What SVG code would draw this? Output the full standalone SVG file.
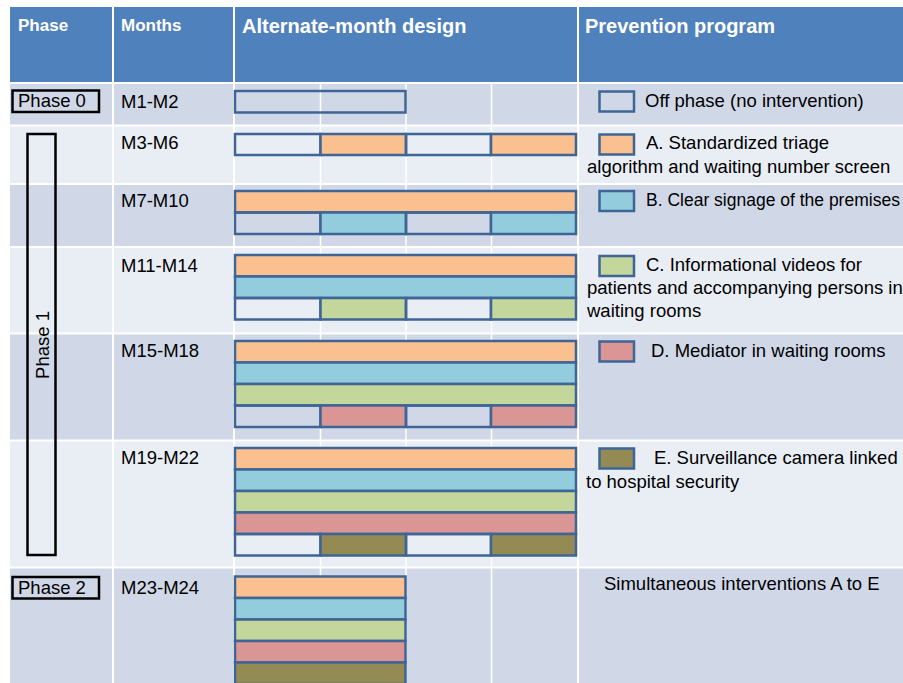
<svg xmlns="http://www.w3.org/2000/svg" width="903" height="683" viewBox="0 0 903 683">
<style>
text{font-family:"Liberation Sans",Arial,sans-serif;font-size:18.5px;fill:#000}
.hd{fill:#FFFFFF;font-weight:bold;font-size:20px}
.hs{fill:#FFFFFF;font-weight:bold;font-size:17px}
.dk{fill:#D0D8E8}
.lt{fill:#E9EDF4}
.bar{stroke:#3E6595;stroke-width:2.5}
.off{fill:none}
.A{fill:#FAC090}
.B{fill:#93CDDD}
.C{fill:#C3D69B}
.D{fill:#D99694}
.E{fill:#948A54}
.ph{fill:none;stroke:#000;stroke-width:2.5}
.sep{stroke:#FFFFFF;stroke-width:2}
.grid{stroke:#FFFFFF;stroke-width:1.5}
</style>
<rect x="0" y="0" width="903" height="683" fill="#FFFFFF"/>
<g id="table">
<rect x="10" y="7" width="893" height="75" fill="#4F81BD"/>
<rect class="dk" x="10" y="84" width="893" height="40.5"/>
<rect class="lt" x="10" y="126.5" width="893" height="56.5"/>
<rect class="dk" x="10" y="185" width="893" height="61"/>
<rect class="lt" x="10" y="248" width="893" height="84.5"/>
<rect class="dk" x="10" y="334.5" width="893" height="105"/>
<rect class="lt" x="10" y="441.5" width="893" height="125"/>
<rect class="dk" x="10" y="568.5" width="893" height="114.5"/>
<line class="sep" x1="113" y1="7" x2="113" y2="683"/>
<line class="sep" x1="234" y1="7" x2="234" y2="683"/>
<line class="sep" x1="578" y1="7" x2="578" y2="683"/>
<line class="grid" x1="320.5" y1="83" x2="320.5" y2="683"/>
<line class="grid" x1="406" y1="83" x2="406" y2="683"/>
<line class="grid" x1="491.5" y1="83" x2="491.5" y2="683"/>
</g>
<g id="header">
<text class="hs" x="18" y="31">Phase</text>
<text class="hs" x="121" y="31">Months</text>
<text class="hd" x="242" y="33">Alternate-month design</text>
<text class="hd" x="585" y="33">Prevention program</text>
</g>
<g id="phase0">
<rect class="ph" x="12.5" y="90.5" width="86.5" height="21.5"/>
<text x="18" y="107">Phase 0</text>
</g>
<g id="phase1">
<rect class="ph" x="27.5" y="134" width="28" height="421"/>
<text transform="translate(48.5,345) rotate(-90)" text-anchor="middle">Phase 1</text>
</g>
<g id="phase2">
<rect class="ph" x="12.5" y="577" width="86.5" height="21.5"/>
<text x="18" y="594">Phase 2</text>
</g>
<g id="row-m1-m2">
<text x="121" y="108">M1-M2</text>
<rect class="bar off" x="235" y="91" width="170.5" height="21.5"/>
</g>
<g id="row-m3-m6">
<text x="121" y="149">M3-M6</text>
<rect class="bar off" x="235" y="134" width="85.5" height="21"/>
<rect class="bar A" x="320.5" y="134" width="85.5" height="21"/>
<rect class="bar off" x="406" y="134" width="85" height="21"/>
<rect class="bar A" x="491" y="134" width="85" height="21"/>
</g>
<g id="row-m7-m10">
<text x="121" y="207">M7-M10</text>
<rect class="bar A" x="235" y="191" width="341" height="21.5"/>
<rect class="bar off" x="235" y="212.5" width="85.5" height="21.5"/>
<rect class="bar B" x="320.5" y="212.5" width="85.5" height="21.5"/>
<rect class="bar off" x="406" y="212.5" width="85" height="21.5"/>
<rect class="bar B" x="491" y="212.5" width="85" height="21.5"/>
</g>
<g id="row-m11-m14">
<text x="121" y="272">M11-M14</text>
<rect class="bar A" x="235" y="255" width="341" height="21.5"/>
<rect class="bar B" x="235" y="276.5" width="341" height="21.5"/>
<rect class="bar off" x="235" y="298" width="85.5" height="21.5"/>
<rect class="bar C" x="320.5" y="298" width="85.5" height="21.5"/>
<rect class="bar off" x="406" y="298" width="85" height="21.5"/>
<rect class="bar C" x="491" y="298" width="85" height="21.5"/>
</g>
<g id="row-m15-m18">
<text x="121" y="357">M15-M18</text>
<rect class="bar A" x="235" y="341" width="341" height="21.5"/>
<rect class="bar B" x="235" y="362.5" width="341" height="21.5"/>
<rect class="bar C" x="235" y="384" width="341" height="21.5"/>
<rect class="bar off" x="235" y="405.5" width="85.5" height="21.5"/>
<rect class="bar D" x="320.5" y="405.5" width="85.5" height="21.5"/>
<rect class="bar off" x="406" y="405.5" width="85" height="21.5"/>
<rect class="bar D" x="491" y="405.5" width="85" height="21.5"/>
</g>
<g id="row-m19-m22">
<text x="121" y="464">M19-M22</text>
<rect class="bar A" x="235" y="448" width="341" height="21.5"/>
<rect class="bar B" x="235" y="469.5" width="341" height="21.5"/>
<rect class="bar C" x="235" y="491" width="341" height="21.5"/>
<rect class="bar D" x="235" y="512.5" width="341" height="21.5"/>
<rect class="bar off" x="235" y="534" width="85.5" height="21.5"/>
<rect class="bar E" x="320.5" y="534" width="85.5" height="21.5"/>
<rect class="bar off" x="406" y="534" width="85" height="21.5"/>
<rect class="bar E" x="491" y="534" width="85" height="21.5"/>
</g>
<g id="row-m23-m24">
<text x="121" y="594">M23-M24</text>
<rect class="bar A" x="235" y="576.5" width="170.5" height="21.5"/>
<rect class="bar B" x="235" y="598" width="170.5" height="21.5"/>
<rect class="bar C" x="235" y="619.5" width="170.5" height="21.5"/>
<rect class="bar D" x="235" y="641" width="170.5" height="21.5"/>
<rect class="bar E" x="235" y="662.5" width="170.5" height="21.5"/>
</g>
<g id="legend-off">
<rect class="bar off" x="599.5" y="91.5" width="34.5" height="20"/>
<text x="645" y="107">Off phase (no intervention)</text>
</g>
<g id="legend-a">
<rect class="bar A" x="599.5" y="134.5" width="34.5" height="20"/>
<text x="646" y="148.5">A. Standardized triage</text>
<text x="587" y="172.5">algorithm and waiting number screen</text>
</g>
<g id="legend-b">
<rect class="bar B" x="599.5" y="191" width="34.5" height="20"/>
<text x="646" y="206" style="font-size:17.5px">B. Clear signage of the premises</text>
</g>
<g id="legend-c">
<rect class="bar C" x="599.5" y="256" width="34.5" height="20"/>
<text x="646" y="270.5">C. Informational videos for</text>
<text x="587" y="293.5">patients and accompanying persons in</text>
<text x="587" y="316.5">waiting rooms</text>
</g>
<g id="legend-d">
<rect class="bar D" x="599.5" y="341.5" width="34.5" height="20"/>
<text x="651" y="356.5">D. Mediator in waiting rooms</text>
</g>
<g id="legend-e">
<rect class="bar E" x="599.5" y="448.5" width="34.5" height="20"/>
<text x="654" y="463.5">E. Surveillance camera linked</text>
<text x="586" y="487.5">to hospital security</text>
</g>
<g id="legend-all">
<text x="604" y="590">Simultaneous interventions A to E</text>
</g>
</svg>
